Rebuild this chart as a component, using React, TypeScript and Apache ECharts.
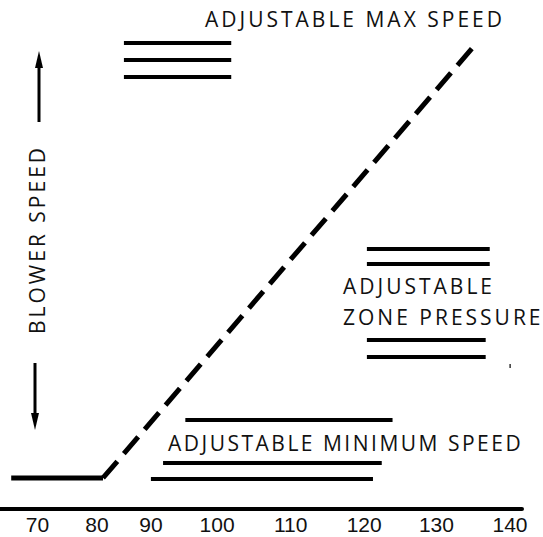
import React, { useEffect, useRef } from "react";
import * as echarts from "echarts";

// X axis (drawing units) – tick positions and their printed labels
const xTickPos = [70, 78.8, 86.8, 96.6, 107.5, 118.4, 129.1, 140];
const xTickLabels = ["70", "80", "90", "100", "110", "120", "130", "140"];

// Blower speed curve (y: blower speed, 0-100)
const floorLine: [number, number][] = [
  [66.1, 6.1],
  [79.7, 6.1],
];
const rampLine: [number, number][] = [
  [79.7, 6.1],
  [134.7, 91.0],
];

// "Adjustable max speed" marks
const maxMarkX = [82.8, 98.7];
const maxMarkY = [91.6, 88.2, 84.9];

// "Adjustable zone pressure" marks
const zoneUpperX = [118.8, 137.0];
const zoneUpperY = [51.1, 48.1];
const zoneLowerX = [118.8, 136.4];
const zoneLowerY = [33.2, 29.9];

// "Adjustable minimum speed" marks
const minMarkStart = [91.9, 88.6, 86.8];
const minMarkEnd = [122.6, 121.0, 119.7];
const minMarkY = [17.5, 9.0, 5.9];

const FONT = "'Open Sans', 'Noto Sans', sans-serif";
const TICK_FONT = "'Liberation Sans', Arial, sans-serif";

const spacing: Record<string, number> = {
  "ADJUSTABLE MAX SPEED": 3,
  ADJUSTABLE: 3,
  "ZONE PRESSURE": 3,
  "ADJUSTABLE MINIMUM SPEED": 2.5,
  "BLOWER SPEED": 3,
};

export default function App() {
  const ref = useRef<HTMLDivElement>(null);

  useEffect(() => {
    if (!ref.current) return;
    const el = ref.current;
    const chart = echarts.init(el, undefined, { renderer: "svg" });

    const seg = (xs: number[], y: number) => ({
      coords: [
        [xs[0], y],
        [xs[1], y],
      ],
    });
    const markData = [
      ...maxMarkY.map((y) => seg(maxMarkX, y)),
      ...zoneUpperY.map((y) => seg(zoneUpperX, y)),
      ...zoneLowerY.map((y) => seg(zoneLowerX, y)),
      ...minMarkY.map((y, i) => seg([minMarkStart[i], minMarkEnd[i]], y)),
    ];

    const textStyle = (text: string) => ({
      text,
      fill: "#111",
      fontSize: 21,
      fontFamily: FONT,
      align: "left",
      verticalAlign: "middle",
      textAlign: "left",
      textVerticalAlign: "middle",
    });

    chart.setOption({
      animation: false,
      grid: {
        left: 0,
        right: 21,
        top: 0,
        bottom: 28,
        containLabel: false,
        outerBoundsMode: "none",
      },
      xAxis: {
        type: "value",
        min: 64.44,
        max: 141.78,
        axisLine: { show: true, lineStyle: { color: "#000", width: 4 } },
        axisTick: { show: false },
        splitLine: { show: false },
        axisLabel: {
          customValues: xTickPos,
          formatter: (v: number) => {
            const i = xTickPos.findIndex((p) => Math.abs(p - v) < 1e-6);
            return i >= 0 ? xTickLabels[i] : "";
          },
          fontSize: 21,
          lineHeight: 21,
          fontFamily: TICK_FONT,
          color: "#111",
          margin: 5,
        },
      },
      yAxis: {
        type: "value",
        min: 0,
        max: 100,
        show: false,
      },
      series: [
        {
          type: "line",
          data: floorLine,
          symbol: "none",
          lineStyle: { color: "#000", width: 5, cap: "butt", join: "miter" },
        },
        {
          type: "line",
          data: rampLine,
          symbol: "none",
          lineStyle: {
            color: "#000",
            width: 5,
            type: [22, 10],
            cap: "butt",
          },
        },
        {
          type: "lines",
          coordinateSystem: "cartesian2d",
          polyline: false,
          data: markData,
          lineStyle: { color: "#000", width: 4, opacity: 1, curveness: 0 },
        },
      ],
      graphic: [
        { type: "text", x: 205, y: 19, style: textStyle("ADJUSTABLE MAX SPEED") },
        { type: "text", x: 343, y: 286, style: textStyle("ADJUSTABLE") },
        { type: "text", x: 343, y: 317, style: textStyle("ZONE PRESSURE") },
        { type: "text", x: 168, y: 443, style: textStyle("ADJUSTABLE MINIMUM SPEED") },
        {
          type: "text",
          x: 37,
          y: 334,
          rotation: Math.PI / 2,
          style: textStyle("BLOWER SPEED"),
        },
        {
          type: "line",
          shape: { x1: 39, y1: 64, x2: 39, y2: 122 },
          style: { stroke: "#000", lineWidth: 3 },
        },
        {
          type: "polygon",
          shape: { points: [[39, 51], [35, 68], [43, 68]] },
          style: { fill: "#000" },
        },
        {
          type: "line",
          shape: { x1: 35, y1: 363, x2: 35, y2: 416 },
          style: { stroke: "#000", lineWidth: 3 },
        },
        {
          type: "polygon",
          shape: { points: [[35, 430], [31, 413], [39, 413]] },
          style: { fill: "#000" },
        },
        {
          type: "rect",
          shape: { x: 509.5, y: 364, width: 1.2, height: 4 },
          style: { fill: "#000" },
        },
      ],
    });

    const applySpacing = () => {
      el.querySelectorAll("text").forEach((t) => {
        const s = spacing[(t.textContent || "").trim()];
        if (s !== undefined) t.setAttribute("letter-spacing", String(s));
      });
    };
    applySpacing();
    chart.on("finished", applySpacing);
    const timer = setTimeout(applySpacing, 50);

    return () => {
      clearTimeout(timer);
      chart.dispose();
    };
  }, []);

  return (
    <div
      ref={ref}
      style={{ position: "fixed", left: 0, top: 0, width: 543, height: 537, background: "#fff" }}
    />
  );
}
